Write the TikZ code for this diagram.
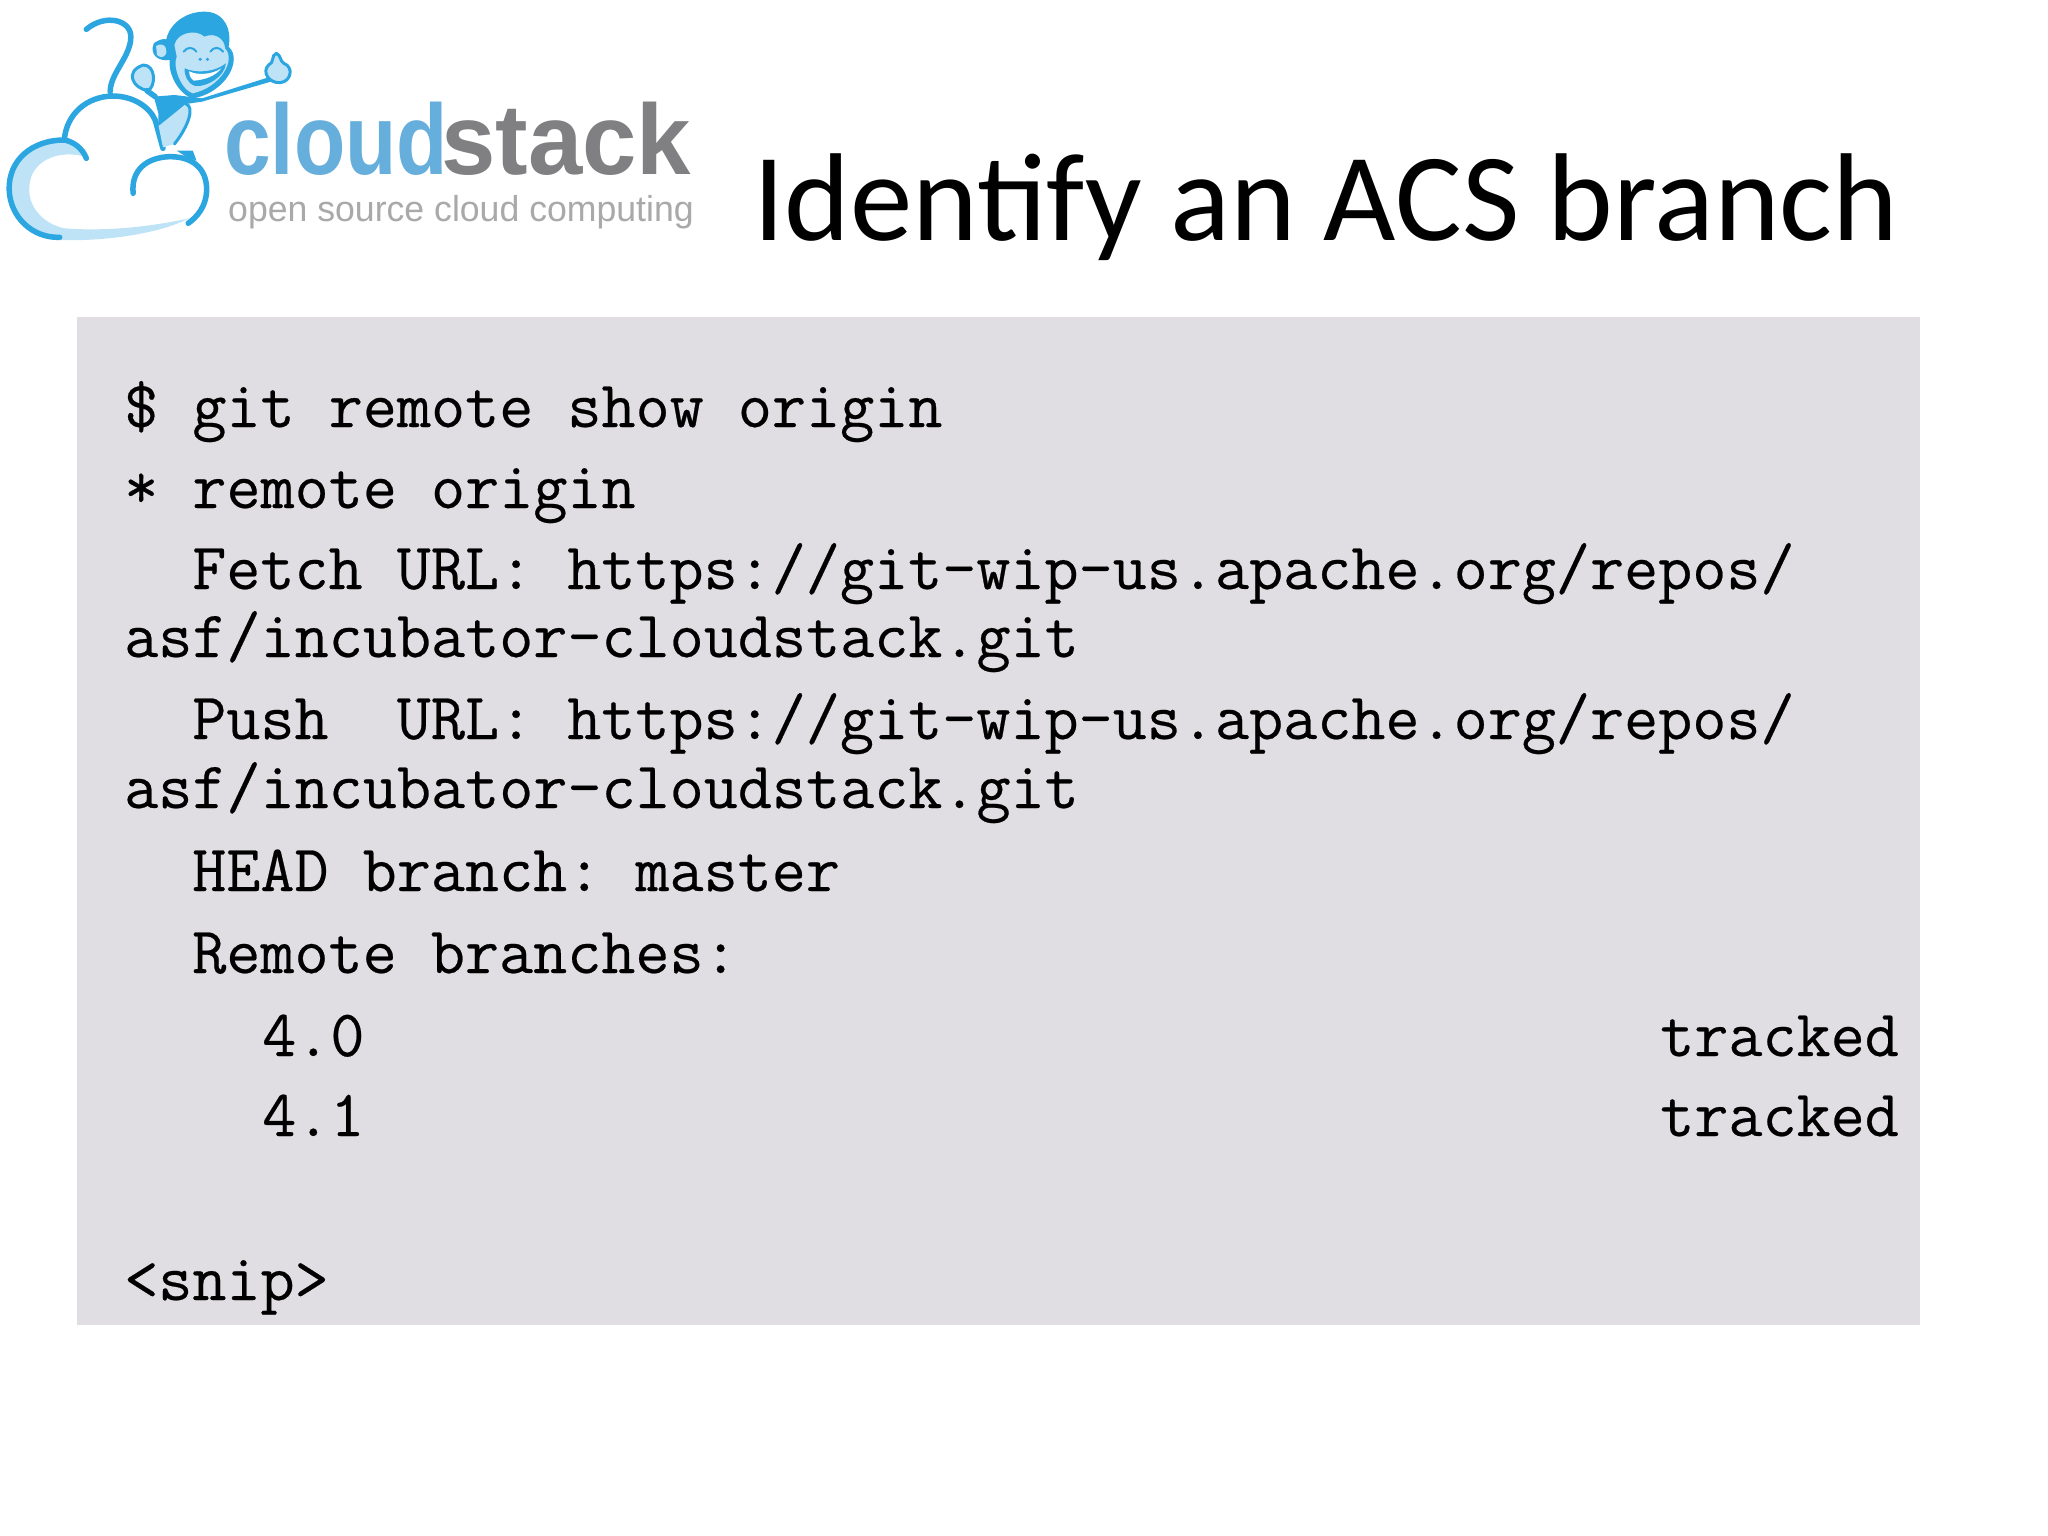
\documentclass[tikz,border=0pt]{standalone}
\usepackage{fontspec}
\newfontfamily\titlefont{Carlito}
\newfontfamily\logofont{Liberation Sans}
\newfontfamily\codefont[FakeBold=0.35]{Latin Modern Mono}
\definecolor{panelgrey}{HTML}{E0DEE2}
\definecolor{logoblue}{HTML}{2BA6E1}
\definecolor{logopale}{HTML}{BFE3F6}
\definecolor{wordblue}{HTML}{66AEDB}
\definecolor{wordgrey}{HTML}{808082}
\definecolor{taggrey}{HTML}{A9A9AA}
\tikzset{
  codeline/.style={anchor=base west,inner sep=0pt,font=\codefont\fontsize{66.2}{70}\selectfont\frenchspacing,text=black},
  titletext/.style={anchor=base west,inner sep=0pt,font=\titlefont\fontsize{125}{130}\selectfont,text=black},
  logostroke/.style={draw=logoblue,line width=5.5pt,line cap=round,line join=round},
  logothin/.style={draw=logoblue,line width=3pt,line cap=round,line join=round},
  wordmark/.style={anchor=base west,inner sep=0pt,font=\logofont\bfseries\fontsize{100}{110}\selectfont},
}
\begin{document}
\begin{tikzpicture}[x=1pt,y=-1pt]
\useasboundingbox (0,0) rectangle (2048,1536);
\fill[white] (0,0) rectangle (2048,1536);
\fill[panelgrey] (77,317) rectangle (1920,1325);
% logo
\begin{scope}[x=0.4591pt,y=-0.3333pt]
  \fill[logopale] (190,472) .. controls (140,450) and (85,470) .. (68,530) .. controls (50,610) and (90,670) .. (140,685) .. controls (230,695) and (330,680) .. (412,655) .. controls (350,700) and (230,725) .. (130,720) .. controls (60,700) and (20,640) .. (20,570) .. controls (20,470) and (70,425) .. (135,420) .. controls (160,425) and (180,445) .. (190,472) -- cycle;
  \draw[logostroke] (130,712) .. controls (70,715) and (22,650) .. (20,570) .. controls (18,480) and (70,420) .. (140,420) .. controls (160,425) and (180,445) .. (188,475);
  \draw[logostroke] (140,420) .. controls (145,340) and (190,290) .. (245,288) .. controls (290,288) and (325,320) .. (338,360) -- (355,445);
  \draw[logostroke] (290,580) .. controls (285,510) and (320,472) .. (370,470) .. controls (430,470) and (452,520) .. (450,575) .. controls (448,620) and (430,650) .. (410,670);
  % tail
  \draw[logostroke] (240,275) .. controls (240,220) and (285,170) .. (285,110) .. controls (285,60) and (230,40) .. (188,88);
  % body
  \fill[logopale] (345,375) -- (405,315) .. controls (425,320) and (410,380) .. (380,432) -- (355,442) -- cycle;
  \draw[logothin] (405,312) .. controls (425,320) and (410,380) .. (380,432);
  \fill[logoblue] (385,452) -- (420,452) -- (428,482) -- (405,470) -- cycle;
  \fill[logoblue] (335,290) -- (380,285) -- (440,295) -- (585,232) -- (590,245) -- (440,305) -- (405,312) -- (345,378) -- (345,340) -- cycle;
  % raised hand
  \draw[logothin,fill=logopale] (312,195) .. controls (340,195) and (340,260) .. (322,272) .. controls (290,265) and (270,215) .. (312,195) -- cycle;
  \draw[logostroke] (320,272) -- (338,290);
  % thumb hand
  \draw[logothin,fill=logopale] (602,160) .. controls (612,165) and (610,185) .. (618,190) .. controls (640,200) and (635,245) .. (610,248) .. controls (585,250) and (570,215) .. (585,195) .. controls (598,190) and (590,165) .. (602,160) -- cycle;
  % head
  \fill[logoblue] (445,35) .. controls (490,35) and (505,90) .. (498,140) .. controls (530,180) and (490,280) .. (420,295) .. controls (390,285) and (365,220) .. (370,180) .. controls (345,185) and (325,165) .. (335,130) .. controls (345,120) and (355,115) .. (362,118) .. controls (370,70) and (405,35) .. (445,35) -- cycle;
  \fill[logopale] (340,138) .. controls (350,128) and (362,135) .. (362,150) .. controls (365,170) and (350,178) .. (342,165) -- cycle;
  \fill[logopale] (380,135) .. controls (385,100) and (425,85) .. (445,110) .. controls (470,95) and (490,120) .. (490,145) .. controls (515,180) and (480,262) .. (420,280) .. controls (395,270) and (375,200) .. (385,170) -- cycle;
  % eyes and nose
  \draw[logoblue,line width=2pt,line cap=round] (400,155) .. controls (408,140) and (420,140) .. (428,155);
  \draw[logoblue,line width=2pt,line cap=round] (458,155) .. controls (465,140) and (478,140) .. (486,155);
  \fill[logoblue] (436,178) ellipse (4 and 5) (452,178) ellipse (4 and 5);
  % mouth
  \fill[logoblue] (402,205) .. controls (430,222) and (470,215) .. (492,190) .. controls (490,230) and (450,262) .. (425,258) .. controls (408,250) and (402,228) .. (402,205) -- cycle;
  \fill[white] (412,214) .. controls (432,228) and (465,222) .. (482,205) .. controls (470,228) and (445,240) .. (422,242) .. controls (415,235) and (412,225) .. (412,214) -- cycle;
\end{scope}
\node[wordmark,text=wordblue,xscale=0.84] (wordcloud) at (224,175) {cloud};
\node[wordmark,text=wordgrey,xscale=0.977] (wordstack) at (441,175) {stack};
\node[anchor=base west,inner sep=0pt,font=\logofont\fontsize{36}{40}\selectfont,text=taggrey,xscale=0.99] (tagline) at (228,221) {open source cloud computing};
% title
\node[titletext] (title) at (753,240) {Identify an ACS branch};
% code
\node[codeline] (l1) at (124,427) {\$ git remote show origin};
\node[codeline] (l2) at (124,508) {* remote origin};
\node[codeline] (l3) at (192,589) {Fetch URL: https://git-wip-us.apache.org/repos/};
\node[codeline] (l4) at (124,657) {asf/incubator-cloudstack.git};
\node[codeline] (l5) at (192,739) {Push\ \ URL: https://git-wip-us.apache.org/repos/};
\node[codeline] (l6) at (124,808) {asf/incubator-cloudstack.git};
\node[codeline] (l7) at (192,891) {HEAD branch: master};
\node[codeline] (l8) at (192,973) {Remote branches:};
\node[codeline] (l9) at (262,1056) {4.0};
\node[codeline] (l9b) at (1660,1056) {tracked};
\node[codeline] (l10) at (262,1136) {4.1};
\node[codeline] (l10b) at (1660,1136) {tracked};
\node[codeline] (l11) at (124,1300) {<snip>};
\end{tikzpicture}
\end{document}
